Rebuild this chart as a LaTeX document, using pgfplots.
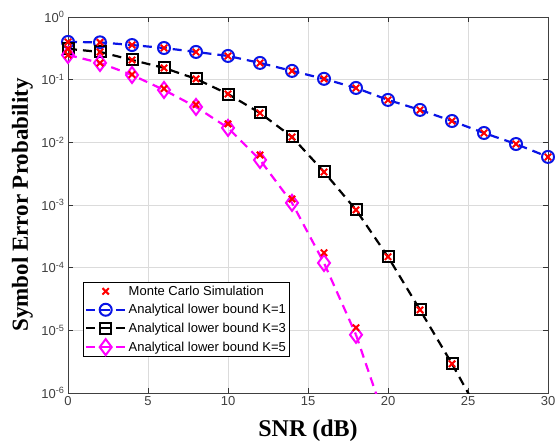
\documentclass[border=0pt]{standalone}
\usepackage{pgfplots}
\pgfplotsset{compat=1.18}
\usepackage{fontspec}
\setmainfont{Liberation Sans}
\newfontfamily\timesfont{Liberation Serif}

\pgfplotstableread{
x y
0 0.40
2 0.394
4 0.357
6 0.32
8 0.277
10 0.239
12 0.185
14 0.138
16 0.103
18 0.0738
20 0.0475
22 0.0329
24 0.0219
26 0.0141
28 0.0094
30 0.00585
}\kone
\pgfplotstableread{
x y
0 0.31
2 0.277
4 0.206
6 0.154
8 0.103
10 0.059
12 0.0294
14 0.0122
16 0.00337
18 0.000836
20 0.000149
22 0.0000212
24 0.00000292
}\kthree
\pgfplotstableread{
x y
0 0.248
2 0.185
4 0.119
6 0.0685
8 0.0367
10 0.0170
12 0.00524
14 0.00108
16 0.000119
18 0.00000848
}\kfive
\pgfplotstableread{
x y
0 0.248
2 0.185
4 0.121
6 0.072
8 0.040
10 0.0197
12 0.0063
14 0.00125
16 0.000173
18 0.000011
}\mcfive

\definecolor{mblue}{RGB}{10,20,230}
\definecolor{mmag}{RGB}{255,0,255}

\begin{document}
\begin{tikzpicture}
\begin{axis}[
  scale only axis, width=480pt, height=376pt,
  ymode=log, log basis y=10,
  xmin=0, xmax=30, ymin=1e-6, ymax=1,
  xtick={0,5,...,30},
  ytick={1e-6,1e-5,1e-4,1e-3,1e-2,1e-1,1},
  minor x tick num=0,
  yticklabel={10\textsuperscript{\pgfmathprintnumber[assume math mode=true]{\tick}}},
  /pgf/number format/assume math mode=true,
  ticklabel style={font=\fontsize{13}{15}\selectfont, text=black!75},
  grid=both,
  major grid style={black!14, line width=0.6pt},
  minor grid style={black!35, dotted, line width=0.6pt},
  axis line style={black!75, line width=0.8pt},
  tick style={black!80, line width=0.6pt},
  major tick length=5pt, minor tick length=3pt,
  tick align=inside,
  xlabel={SNR (dB)},
  ylabel={Symbol Error Probability},
  xlabel style={font=\timesfont\bfseries\fontsize{24}{27}\selectfont, at={(axis description cs:0.5,-0.1)}, anchor=center},
  ylabel style={font=\timesfont\bfseries\fontsize{23}{26}\selectfont, at={(axis description cs:-0.095,0.5)}, anchor=center, rotate=0},
  legend style={at={(0.031,0.295)}, anchor=north west, draw=black, line width=0.6pt,
    font=\fontsize{13}{15}\selectfont, inner sep=1.5pt, row sep=3.5pt, fill=white},
  legend cell align=left,
  legend image code/.code={\draw[mark repeat=2,mark phase=2,#1] plot coordinates {(0cm,0cm) (0.7cm,0cm) (1.4cm,0cm)};},
]
\addlegendimage{only marks, red, mark=x, mark size=4.5pt, line width=2pt}
\addlegendentry{Monte Carlo Simulation}

\addplot[mblue, line width=2.2pt, dash pattern=on 9pt off 6pt, mark=o, mark size=6pt, mark options={solid, line width=2pt}] table[x=x,y=y]{\kone};
\addlegendentry{Analytical lower bound K=1}
\addplot[black, line width=2.2pt, dash pattern=on 9pt off 6pt, mark=square, mark size=5.5pt, mark options={solid, line width=2pt}] table[x=x,y=y]{\kthree};
\addlegendentry{Analytical lower bound K=3}
\addplot[mmag, line width=2.2pt, dash pattern=on 9pt off 6pt, mark=diamond, mark size=8pt, mark options={solid, line width=2pt}] table[x=x,y=y]{\kfive};
\addlegendentry{Analytical lower bound K=5}

% continuation of the analytical curves below the axis
\addplot[black, line width=2.2pt, dash pattern=on 9pt off 6pt, forget plot] coordinates {(24,0.00000292) (26,0.00000035)};
\addplot[mmag, line width=2.2pt, dash pattern=on 9pt off 6pt, forget plot] coordinates {(18,0.00000848) (20,0.00000027)};

% Monte Carlo points
\addplot[only marks, red, mark=x, mark size=4.5pt, line width=2pt, forget plot] table[x=x,y=y]{\kone};
\addplot[only marks, red, mark=x, mark size=4.5pt, line width=2pt, forget plot] table[x=x,y=y]{\kthree};
\addplot[only marks, red, mark=x, mark size=4.5pt, line width=2pt, forget plot] table[x=x,y=y]{\mcfive};
\end{axis}
\pgfresetboundingbox
\path ([xshift=-68pt,yshift=-55pt]current axis.south west) rectangle ([xshift=7pt,yshift=17pt]current axis.north east);
\end{tikzpicture}
\end{document}
